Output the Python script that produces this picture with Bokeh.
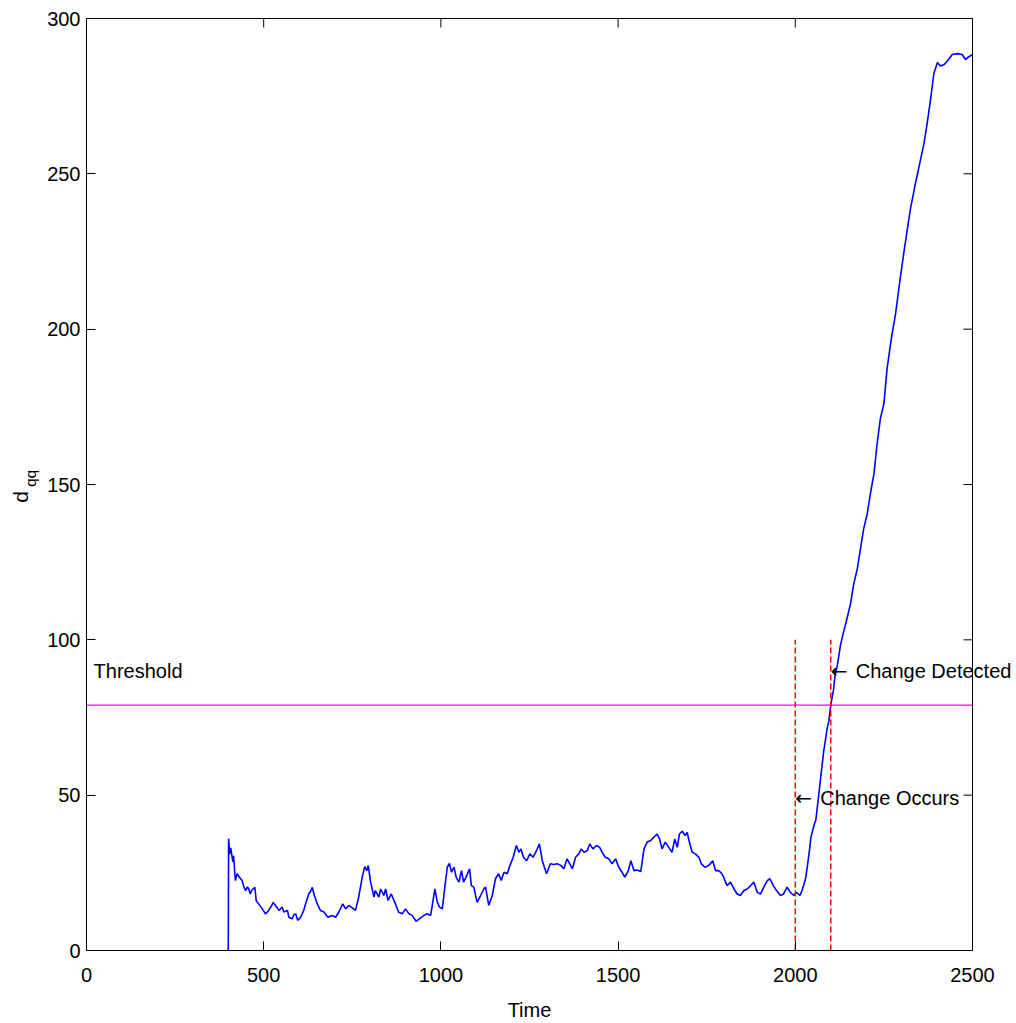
import math

from bokeh.embed import file_html
from bokeh.models import FixedTicker, Label, LinearAxis, Range1d
from bokeh.plotting import figure
from bokeh.resources import INLINE

# d_qq statistic over time (monitoring starts at t = 400)
time = [
    400, 401, 404, 407, 411, 413, 415, 420, 425, 432, 439, 444, 449, 454, 458, 462,
    467, 475, 479, 486, 491, 496, 505, 514, 520, 527, 533, 538, 543, 552, 557, 567,
    571, 580, 585, 590, 596, 604, 613, 618, 627, 632, 637, 643, 651, 660, 670, 681,
    693, 703, 712, 723, 731, 740, 749, 759, 768, 778, 785, 791, 795, 801, 811, 815,
    825, 830, 839, 844, 851, 860, 870, 881, 891, 900, 910, 919, 930, 943, 952, 961,
    971, 977, 983, 990, 996, 1004, 1011, 1018, 1024, 1030, 1037, 1043, 1051, 1058,
    1064, 1071, 1081, 1086, 1093, 1102, 1112, 1121, 1126, 1135, 1145, 1154, 1163,
    1170, 1178, 1187, 1195, 1204, 1213, 1220, 1226, 1233, 1242, 1251, 1260, 1270,
    1278, 1286, 1292, 1298, 1309, 1319, 1328, 1338, 1347, 1356, 1366, 1371, 1380,
    1389, 1396, 1404, 1413, 1420, 1429, 1439, 1448, 1455, 1464, 1474, 1483, 1493,
    1502, 1511, 1519, 1529, 1536, 1545, 1554, 1564, 1573, 1582, 1592, 1601, 1610,
    1617, 1624, 1633, 1643, 1652, 1660, 1667, 1673, 1681, 1689, 1695, 1701, 1709,
    1718, 1728, 1735, 1745, 1756, 1767, 1775, 1784, 1793, 1798, 1803, 1808, 1817,
    1827, 1836, 1845, 1855, 1864, 1874, 1883, 1893, 1902, 1911, 1921, 1928, 1938,
    1947, 1958, 1967, 1977, 1986, 1996, 2003, 2013, 2019, 2029, 2035, 2041, 2044,
    2054, 2058, 2064, 2071, 2080, 2090, 2095, 2100, 2108, 2112, 2119, 2127, 2135,
    2144, 2156, 2165, 2175, 2184, 2193, 2203, 2212, 2222, 2231, 2240, 2250, 2259,
    2271, 2283, 2295, 2308, 2325, 2339, 2351, 2363, 2372, 2382, 2391, 2401, 2410,
    2420, 2429, 2443, 2457, 2471, 2480, 2490, 2500,
]
dqq = [
    0, 36, 31, 33, 30, 28.5, 30.5, 22.5, 24.7, 23.5, 22.5, 20.5, 19.3, 20.5, 19.8, 18.2,
    19.5, 20.3, 16, 15, 14.2, 13.4, 11.8, 12.9, 14, 15.5, 14.5, 13.8, 12.9, 14, 12.4, 12.9,
    10.7, 10.2, 11.5, 11.8, 9.7, 10.7, 12.9, 15, 18.2, 19, 20.3, 17.7, 15, 12.9, 12.4, 10.7,
    11.3, 10.7, 12.4, 15, 13.4, 14.5, 13.8, 12.9, 17.2, 23.6, 27, 25.7, 27.3, 22.5, 17.2, 19.3,
    17.2, 19.8, 17.7, 19.8, 16.1, 18.2, 15.5, 12.3, 11.8, 13.4, 11.8, 11.3, 9.4, 10.5, 11.3, 11.8,
    11.3, 15.5, 19.8, 15.5, 14, 13.4, 20.3, 26.8, 28, 25.2, 26.8, 23.6, 22, 25.7,
    22, 23.6, 26.3, 20.9, 20.4, 15.5, 17.7, 19.8, 20.4, 14.5, 17.7, 23.1, 24.7,
    22.5, 25.2, 24.7, 27.4, 30, 33.8, 31.6, 32.7, 30, 28.9, 31.1, 30, 32.2,
    34.3, 28.9, 26.8, 24.7, 27.9, 27.7, 27.9, 27.4, 26.3, 29.5, 27.4, 26.3, 30,
    31.1, 32.7, 31.6, 32.2, 34.3, 32.7, 33.8, 33.2, 31.6, 30, 29.5, 27.9, 29.5,
    26.8, 25.2, 23.6, 25.7, 28.9, 25.7, 25.9, 25.4, 32.7, 34.9, 35.4, 36.5, 37.5,
    35.9, 32.7, 34.9, 33.2, 31.6, 35.9, 33.2, 37.5, 38.4, 37, 38, 34.9, 31.6,
    31.1, 30, 27.9, 26.8, 27.4, 28.9, 25.7, 25.7, 24.7, 23.6, 22, 20.9, 22,
    19.8, 18.2, 17.7, 19.3, 19.8, 20.9, 22, 18.7, 18.2, 20.4, 22.5, 23.1, 20.9,
    19.3, 17.7, 18.2, 20.4, 18.7, 17.7, 18.7, 17.7, 19.3, 23.1, 27.9, 33.2, 36.5,
    40.8, 42, 48, 55, 64, 71.5, 74, 79, 84, 88.5, 92, 98, 102,
    106, 111.7, 118.1, 122.9, 129.4, 135.8, 140.6, 147.1, 153.5, 163.2, 171.2, 176, 187.3,
    197, 205, 215.5, 226, 238.8, 246.9, 253.3, 259.7, 266.2, 274.2, 282.3, 285.8, 284.7,
    285.2, 286.3, 288.4, 288.7, 288.4, 286.8, 287.7, 288.4,
]

threshold = 79
change_times = [2000, 2100]          # change occurs, change detected
change_labels = ["Change Occurs", "Change Detected"]
change_label_y = [49, 90]
marker_top = 100

x_ticks = [0, 500, 1000, 1500, 2000, 2500]
y_ticks = [0, 50, 100, 150, 200, 250, 300]
X_MIN, X_MAX = 0, 2500
Y_MIN, Y_MAX = 0, 300

# canvas size and the margins around the axes box (pixels)
W, H = 1016, 1023
PAD_L, PAD_R, PAD_T, PAD_B = 86, 44, 18, 73
TICK = 9

FONT = "Liberation Sans"
FS = "20px"

# the frame covers the whole canvas so that texts may sit outside the axes box
ux = (X_MAX - X_MIN) / (W - PAD_L - PAD_R)   # data units per pixel
uy = (Y_MAX - Y_MIN) / (H - PAD_T - PAD_B)
x_range = Range1d(X_MIN - PAD_L * ux, X_MAX + PAD_R * ux)
y_range = Range1d(Y_MIN - PAD_B * uy, Y_MAX + PAD_T * uy)

p = figure(
    width=W, height=H, x_range=x_range, y_range=y_range,
    output_backend="svg", toolbar_location=None,
    x_axis_location=None, y_axis_location=None,
    min_border=0, min_border_left=0, min_border_right=0,
    min_border_top=0, min_border_bottom=0,
)
p.background_fill_color = "white"
p.border_fill_color = "white"
p.outline_line_color = None
p.grid.visible = False


def style_axis(ax):
    ax.major_tick_in = TICK
    ax.major_tick_out = 0
    ax.minor_tick_in = 0
    ax.minor_tick_out = 0
    ax.axis_line_color = "black"
    ax.major_tick_line_color = "black"
    ax.major_label_text_font = FONT
    ax.major_label_text_font_size = FS
    ax.major_label_text_color = "black"


xa = LinearAxis(fixed_location=Y_MIN, bounds=(X_MIN, X_MAX), ticker=FixedTicker(ticks=x_ticks))
style_axis(xa)
xa.major_label_standoff = 17
xa.axis_label = "Time"
xa.axis_label_text_font = FONT
xa.axis_label_text_font_size = FS
xa.axis_label_text_font_style = "normal"
xa.axis_label_text_color = "black"
xa.axis_label_standoff = 14
p.add_layout(xa, "below")

ya = LinearAxis(fixed_location=X_MIN, bounds=(Y_MIN, Y_MAX), ticker=FixedTicker(ticks=y_ticks))
style_axis(ya)
ya.major_label_standoff = 6
p.add_layout(ya, "left")

# top and right sides of the box, with inward ticks
p.segment(x0=[X_MIN, X_MAX], y0=[Y_MAX, Y_MIN], x1=[X_MAX, X_MAX], y1=[Y_MAX, Y_MAX],
          line_color="black", line_width=1)
p.segment(x0=x_ticks, y0=[Y_MAX] * len(x_ticks), x1=x_ticks,
          y1=[Y_MAX - TICK * uy] * len(x_ticks), line_color="black", line_width=1)
p.segment(x0=[X_MAX] * len(y_ticks), y0=y_ticks, x1=[X_MAX - TICK * ux] * len(y_ticks),
          y1=y_ticks, line_color="black", line_width=1)

# statistic trace
p.line(time, dqq, line_color="#0000ff", line_width=1.6)

# detection threshold
p.segment(x0=[X_MIN], y0=[threshold], x1=[X_MAX], y1=[threshold],
          line_color="#ff00ff", line_width=1.2)

# change markers
p.segment(x0=change_times, y0=[0] * len(change_times), x1=change_times,
          y1=[marker_top] * len(change_times),
          line_color="#ff0000", line_dash="6 3", line_width=1.5)

p.add_layout(Label(x=20, y=90, text="Threshold", text_font=FONT, text_font_size=FS,
                   text_color="black", text_align="left", text_baseline="middle"))

for t, txt, y in zip(change_times, change_labels, change_label_y):
    p.add_layout(Label(x=t, y=y, text="\u2190", text_font="DejaVu Sans", text_font_size=FS,
                       text_color="black", text_align="left", text_baseline="middle"))
    p.add_layout(Label(x=t, y=y, x_offset=25, text=txt, text_font=FONT, text_font_size=FS,
                       text_color="black", text_align="left", text_baseline="middle"))

# y-axis label: d with subscript qq
p.add_layout(Label(x=-187, y=146, text="d", angle=math.pi / 2, text_font=FONT,
                   text_font_size="21px", text_color="black",
                   text_align="center", text_baseline="middle"))
p.add_layout(Label(x=-158, y=152, text="qq", angle=math.pi / 2, text_font=FONT,
                   text_font_size="15px", text_color="black",
                   text_align="center", text_baseline="middle"))

open("out.html", "w").write(file_html(p, INLINE))
